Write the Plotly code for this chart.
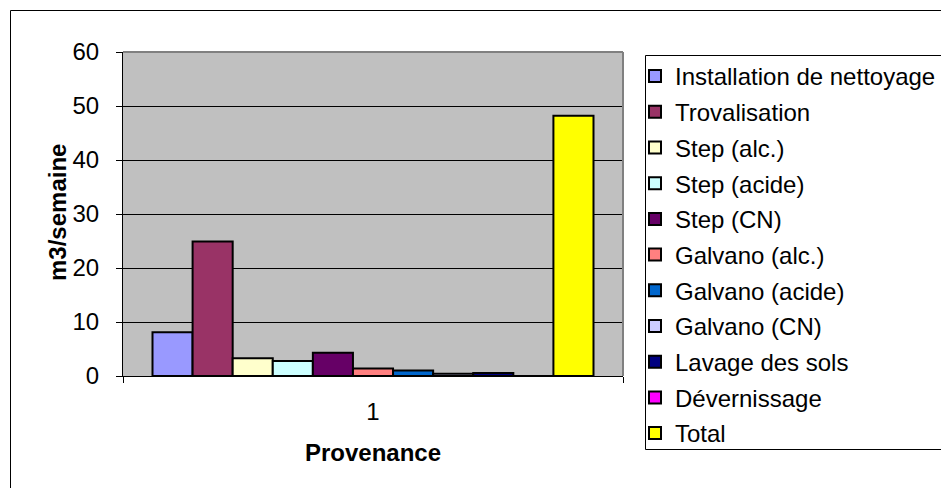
import plotly.graph_objects as go

categories = ["1"]
series_names = ["Installation de nettoyage", "Trovalisation", "Step (alc.)", "Step (acide)",
                "Step (CN)", "Galvano (alc.)", "Galvano (acide)", "Galvano (CN)",
                "Lavage des sols", "Dévernissage", "Total"]
series_values = [8.1, 24.9, 3.3, 2.8, 4.3, 1.4, 1.0, 0.4, 0.55, 0, 48.2]
series_colors = ["#9999FF", "#993366", "#FFFFCC", "#CCFFFF", "#660066", "#FF8080",
                 "#0066CC", "#CCCCFF", "#000080", "#FF00FF", "#FFFF00"]
y_ticks = [0, 10, 20, 30, 40, 50, 60]

W, H = 941, 488
L, R, T, B = 123, 623, 52, 376
pw, ph = R - L, B - T

def px(x):
    return (x - L) / pw

def py(y):
    return (B - y) / ph

FONT = "Liberation Sans, Arial, sans-serif"
FS = 24

fig = go.Figure()
for i, (name, val, col) in enumerate(zip(series_names, series_values, series_colors)):
    fig.add_trace(go.Bar(x=categories, y=[val], name=name, legendgroup="g%d" % i,
                         marker=dict(color=col, line=dict(color="black", width=2))))

fig.update_layout(
    width=W, height=H,
    margin=dict(l=L, r=W - R, t=T, b=H - B, autoexpand=False),
    paper_bgcolor="white", plot_bgcolor="#C0C0C0",
    barmode="group", bargap=0.118, bargroupgap=0,
    font=dict(family=FONT, size=FS, color="black"),
    showlegend=True,
    legend=dict(x=px(635), y=py(54), xanchor="left", yanchor="top",
                bgcolor="rgba(0,0,0,0)", borderwidth=0,
                font=dict(family=FONT, size=FS, color="black"),
                itemwidth=30, tracegroupgap=1.5, maxheight=480),
    xaxis=dict(type="category", showline=True, linecolor="black", linewidth=1,
               ticks="outside", tickson="boundaries", ticklen=6, tickcolor="black",
               showgrid=False, ticklabelstandoff=14,
               tickfont=dict(family=FONT, size=FS, color="black")),
    yaxis=dict(range=[0, 60], tickvals=y_ticks, showline=True, linecolor="black", linewidth=1,
               ticks="outside", ticklen=6, tickcolor="black",
               showgrid=True, gridcolor="black", gridwidth=1, zeroline=False,
               ticklabelstandoff=12,
               tickfont=dict(family=FONT, size=FS, color="black")),
    shapes=[
        dict(type="line", xref="paper", yref="paper", x0=0, x1=1, y0=1, y1=1,
             line=dict(color="#808080", width=2), layer="above"),
        dict(type="line", xref="paper", yref="paper", x0=1, x1=1, y0=0, y1=1,
             line=dict(color="#808080", width=2), layer="above"),
        dict(type="rect", xref="paper", yref="paper", x0=px(10.5), x1=px(1000),
             y0=py(1000), y1=py(10.5), line=dict(color="black", width=1),
             fillcolor="rgba(0,0,0,0)", layer="below"),
        dict(type="rect", xref="paper", yref="paper", x0=px(645.5), x1=px(1000),
             y0=py(449.5), y1=py(55.5), line=dict(color="black", width=1),
             fillcolor="white", layer="below"),
    ],
    annotations=[
        dict(text="<b>m3/semaine</b>", xref="paper", yref="paper", x=px(57), y=py(213),
             textangle=-90, showarrow=False, xanchor="center", yanchor="middle",
             font=dict(family=FONT, size=FS, color="black")),
        dict(text="<b>Provenance</b>", xref="paper", yref="paper", x=px(373), y=py(452),
             showarrow=False, xanchor="center", yanchor="middle",
             font=dict(family=FONT, size=FS, color="black")),
    ],
)

fig.write_html("out.html")
